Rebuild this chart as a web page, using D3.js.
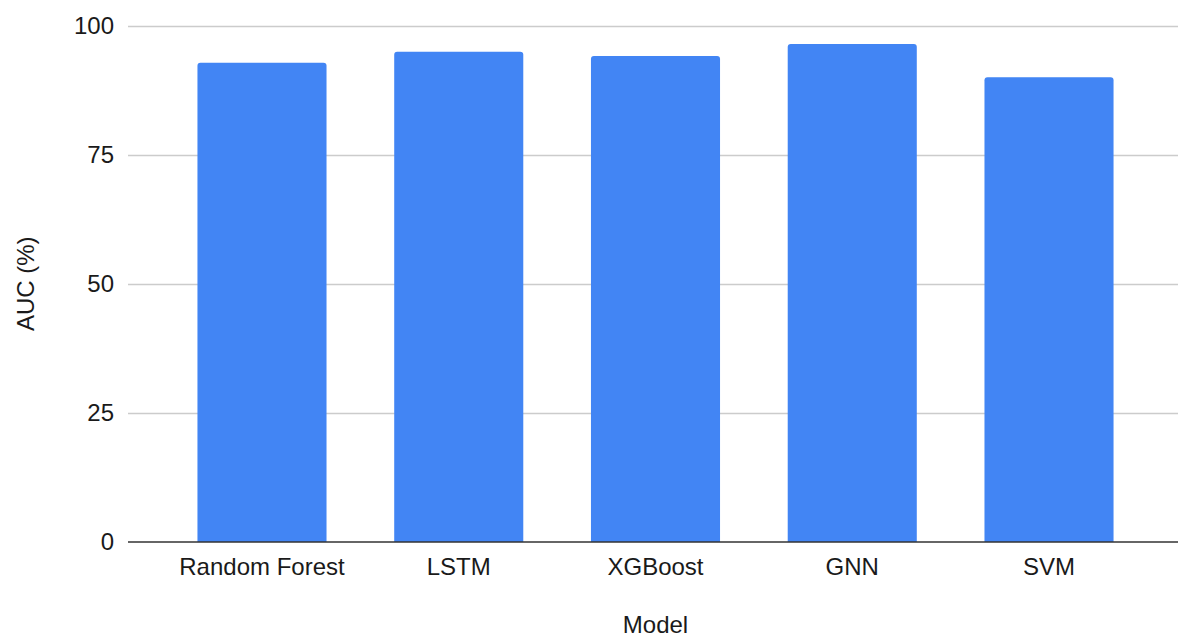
<!DOCTYPE html>
<html><head><meta charset="utf-8">
<script src="https://cdn.jsdelivr.net/npm/d3@7"></script>
<style>
html,body{margin:0;padding:0;background:#fff;}
svg{display:block;font-family:"Liberation Sans",Arial,sans-serif;}
</style></head>
<body>
<svg id="chart" width="1178" height="639"></svg>
<script>
const categories = ["Random Forest", "LSTM", "XGBoost", "GNN", "SVM"];
const aucValues = [92.8, 94.9, 94.1, 96.4, 90.0];
const yTicks = [0, 25, 50, 75, 100];
const yTitle = "AUC (%)";
const xTitle = "Model";

const svg = d3.select("#chart");
const W = 1178, H = 639;
const plot = {left: 128, right: 1183, top: 25.5, bottom: 542};

const x = d3.scaleBand().domain(categories).range([plot.left, plot.right])
  .paddingInner(0.344).paddingOuter(0.353);
const y = d3.scaleLinear().domain([0, 100]).range([plot.bottom, plot.top]);

// gridlines
svg.append("g").selectAll("line").data(yTicks.filter(d => d !== 0)).join("line")
  .attr("x1", plot.left).attr("x2", W)
  .attr("y1", d => Math.round(y(d)) + 0.5).attr("y2", d => Math.round(y(d)) + 0.5)
  .attr("stroke", "#cccccc").attr("stroke-width", 1.5);

// y tick labels
svg.append("g").selectAll("text").data(yTicks).join("text")
  .attr("x", 114).attr("y", d => y(d)).attr("dy", "0.35em")
  .attr("text-anchor", "end").attr("font-size", 24).attr("fill", "#1a1a1a")
  .text(d => d);

// bars with rounded top corners
const r = 3;
svg.append("g").selectAll("path").data(categories).join("path")
  .attr("fill", "#4285F4")
  .attr("d", (c, i) => {
    const x0 = x(c), x1 = x(c) + x.bandwidth();
    const yt = y(aucValues[i]), yb = y(0);
    return `M${x0},${yb}V${yt + r}Q${x0},${yt} ${x0 + r},${yt}H${x1 - r}Q${x1},${yt} ${x1},${yt + r}V${yb}Z`;
  });

// baseline
svg.append("line")
  .attr("x1", plot.left).attr("x2", W)
  .attr("y1", y(0)).attr("y2", y(0))
  .attr("stroke", "#333333").attr("stroke-width", 1.5);

// x labels
svg.append("g").selectAll("text").data(categories).join("text")
  .attr("x", c => x(c) + x.bandwidth() / 2).attr("y", 575)
  .attr("text-anchor", "middle").attr("font-size", 24).attr("fill", "#1a1a1a")
  .text(c => c);

// axis titles
svg.append("text")
  .attr("x", (plot.left + plot.right) / 2).attr("y", 633)
  .attr("text-anchor", "middle").attr("font-size", 24).attr("fill", "#1a1a1a")
  .text(xTitle);

svg.append("text")
  .attr("transform", `translate(34,${(plot.top + plot.bottom) / 2}) rotate(-90)`)
  .attr("text-anchor", "middle").attr("font-size", 24).attr("fill", "#1a1a1a")
  .text(yTitle);
</script>
</body></html>
